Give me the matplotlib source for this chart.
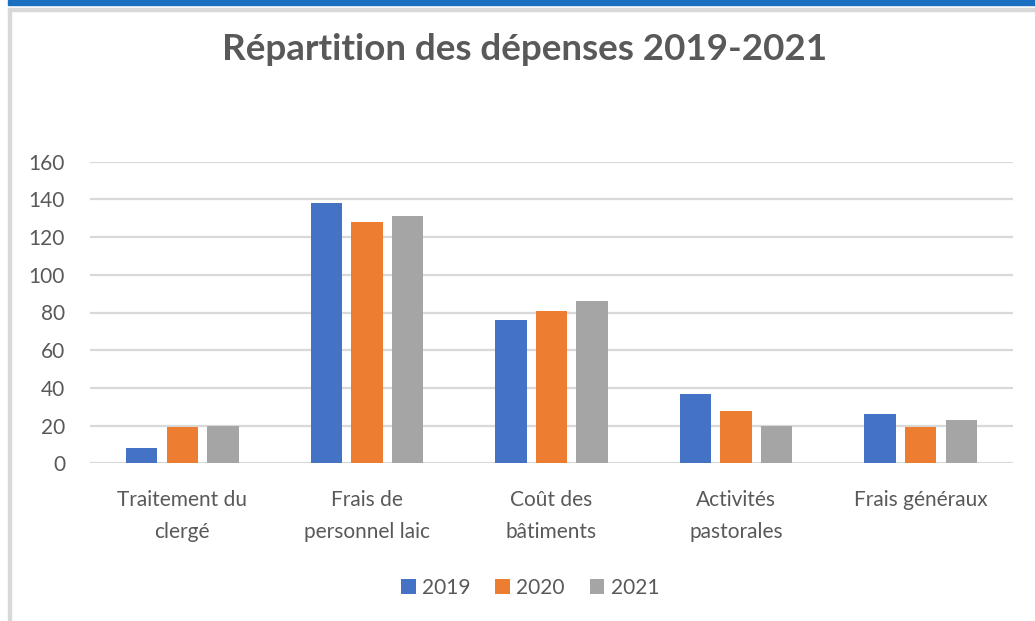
import numpy as np
import matplotlib
matplotlib.use('Agg')
import matplotlib.pyplot as plt
from matplotlib.patches import Rectangle

# ============================================================
# DONNEES
# ============================================================
categories = ['Traitement du\nclergé', 'Frais de\npersonnel laic', 'Coût des\nbâtiments',
              'Activités\npastorales', 'Frais généraux']
years = ['2019', '2020', '2021']
v2019 = [8, 138, 76, 37, 26]
v2020 = [19, 128, 81, 28, 19]
v2021 = [20, 131, 86, 20, 23]
colors = ['#4472C4', '#ED7D31', '#A5A5A5']
yticks = [0, 20, 40, 60, 80, 100, 120, 140, 160]

TXT = '#595959'
plt.rcParams['font.family'] = ['Lato', 'DejaVu Sans']

fig = plt.figure(figsize=(10.35, 6.21), dpi=100)
ax = fig.add_axes([90 / 1035, 1 - 463.3 / 621, (1013 - 90) / 1035, (463.3 - 161.7) / 621])

x = np.arange(len(categories))
width = 0.17
step = 0.22
for i, (vals, yr) in enumerate(zip([v2019, v2020, v2021], years)):
    ax.bar(x + (i - 1) * step, vals, width, color=colors[i], label=yr, zorder=3)

ax.set_xlim(-0.5, len(categories) - 0.5)
ax.set_ylim(0, 160)
ax.set_yticks(yticks)
ax.set_xticks(x)
ax.set_xticklabels(categories, fontsize=15, color=TXT, linespacing=1.8)
ax.tick_params(axis='y', length=0, pad=18, labelsize=15, labelcolor=TXT)
ax.tick_params(axis='x', length=0, pad=19)
ax.grid(axis='y', color='#D9D9D9', linewidth=1.6, zorder=0)
for s in ax.spines.values():
    s.set_visible(False)

fig.text(525 / 1035, 1 - 50 / 621, 'Répartition des dépenses 2019-2021',
         ha='center', va='center', fontsize=26.5, fontweight='bold', color=TXT)

leg = fig.legend(loc='center', bbox_to_anchor=(530 / 1035, 1 - 588 / 621), ncol=3,
                 frameon=False, fontsize=15, handlelength=0.7, handleheight=0.7,
                 handletextpad=0.3, columnspacing=1.2)
for t in leg.get_texts():
    t.set_color(TXT)

# cadre de la capture (bande bleue + bord gris)
fig.patches.append(Rectangle((8 / 1035, 1 - 5 / 621), 1, 5 / 621, transform=fig.transFigure,
                             color='#1A6FC0', zorder=0))
fig.patches.append(Rectangle((8 / 1035, 1 - 11 / 621), 1, 3 / 621, transform=fig.transFigure,
                             color='#D8D8D8', zorder=0))
fig.patches.append(Rectangle((8 / 1035, 0), 3 / 1035, 1 - 8 / 621, transform=fig.transFigure,
                             color='#D8D8D8', zorder=0))

plt.savefig('out.png', dpi=100)
